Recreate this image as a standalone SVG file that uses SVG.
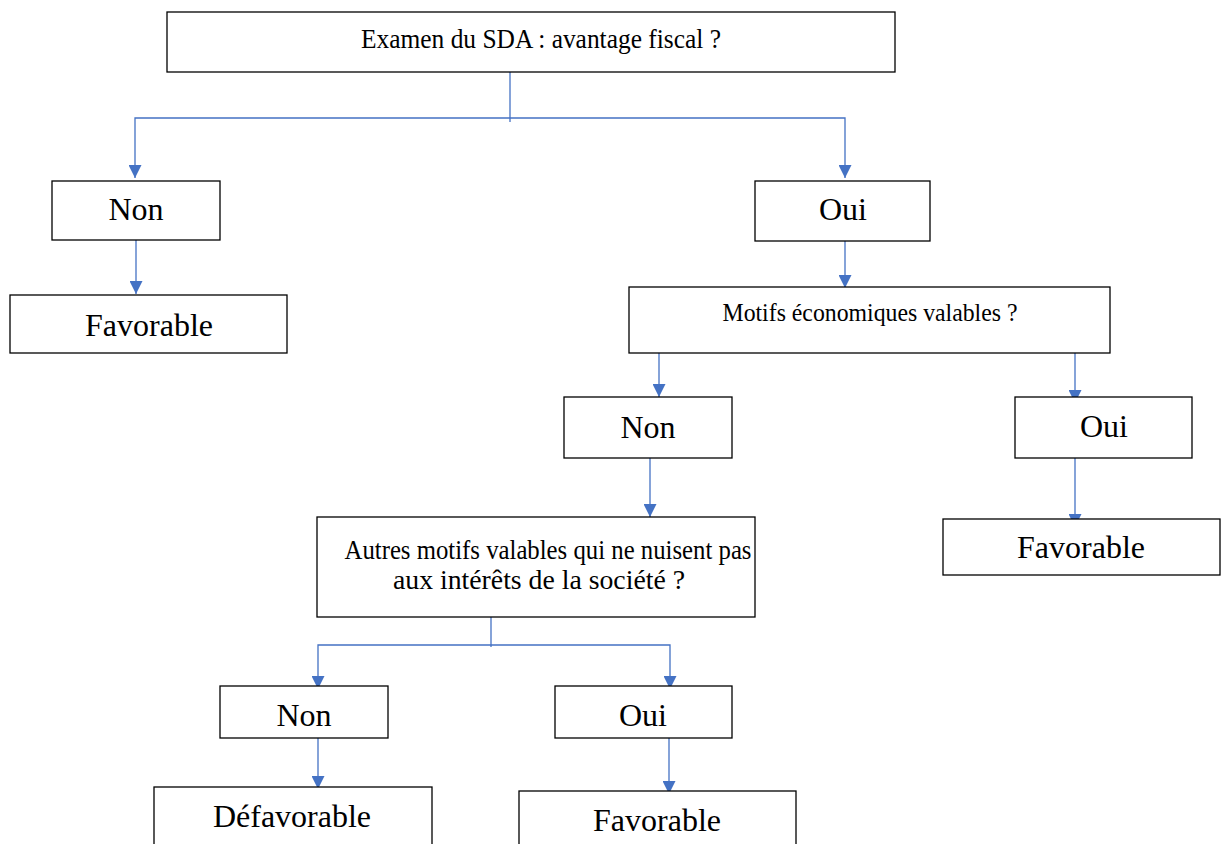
<svg xmlns="http://www.w3.org/2000/svg" width="1227" height="844" viewBox="0 0 1227 844">
<defs>
<marker id="arr" viewBox="0 0 10 10" refX="10" refY="5" markerWidth="16" markerHeight="13" markerUnits="userSpaceOnUse" orient="auto">
<path d="M0,0 L10,5 L0,10 z" fill="#4472C4"/>
</marker>
</defs>
<style>
.box{fill:#fff;stroke:#000;stroke-width:1.3}
.t{font-family:"Liberation Serif","Times New Roman",serif;fill:#000;text-anchor:middle}
.l{font-size:32px}
.c{fill:none;stroke:#4472C4;stroke-width:1.3}
.a{fill:none;stroke:#4472C4;stroke-width:1.3;marker-end:url(#arr)}
</style>
<rect width="1227" height="844" fill="#fff"/>
<g id="connectors">
<path class="c" d="M510,68 V122"/>
<path class="a" d="M510,118 H135 V178"/>
<path class="a" d="M510,118 H845 V178"/>
<path class="a" d="M136,240 V294"/>
<path class="a" d="M845,238 V288"/>
<path class="a" d="M659,350 V397"/>
<path class="a" d="M1075,353 V403"/>
<path class="a" d="M650,455 V517"/>
<path class="a" d="M1075,455 V527"/>
<path class="c" d="M491,614 V647"/>
<path class="a" d="M491,645 H318 V689"/>
<path class="a" d="M491,645 H670 V689"/>
<path class="a" d="M318,735 V789"/>
<path class="a" d="M669,735 V794"/>
</g>
<g id="n1"><rect class="box" x="167" y="12" width="728" height="60"/><text class="t" font-size="27" x="541" y="48" textLength="360" lengthAdjust="spacingAndGlyphs">Examen du SDA : avantage fiscal ?</text></g>
<g id="n2"><rect class="box" x="52" y="181" width="168" height="59"/><text class="t l" x="136" y="220">Non</text></g>
<g id="n3"><rect class="box" x="10" y="295" width="277" height="58"/><text class="t l" x="149" y="336">Favorable</text></g>
<g id="n4"><rect class="box" x="755" y="181" width="175" height="60"/><text class="t l" x="843" y="220">Oui</text></g>
<g id="n5"><rect class="box" x="629" y="287" width="481" height="66"/><text class="t" font-size="25" x="870" y="321" textLength="295" lengthAdjust="spacingAndGlyphs">Motifs économiques valables ?</text></g>
<g id="n6"><rect class="box" x="564" y="397" width="168" height="61"/><text class="t l" x="648" y="438">Non</text></g>
<g id="n7"><rect class="box" x="1015" y="397" width="177" height="61"/><text class="t l" x="1104" y="437">Oui</text></g>
<g id="n8"><rect class="box" x="317" y="517" width="438" height="100"/><text class="t" font-size="28" x="548" y="559" textLength="407" lengthAdjust="spacingAndGlyphs">Autres motifs valables qui ne nuisent pas</text><text class="t" font-size="28" x="539" y="589" textLength="292" lengthAdjust="spacingAndGlyphs">aux intérêts de la société ?</text></g>
<g id="n9"><rect class="box" x="943" y="519" width="277" height="56"/><text class="t l" x="1081" y="558">Favorable</text></g>
<g id="n10"><rect class="box" x="220" y="686" width="168" height="52"/><text class="t l" x="304" y="726">Non</text></g>
<g id="n11"><rect class="box" x="555" y="686" width="177" height="52"/><text class="t l" x="643" y="726">Oui</text></g>
<g id="n12"><rect class="box" x="154" y="787" width="278" height="70"/><text class="t l" x="292" y="827">Défavorable</text></g>
<g id="n13"><rect class="box" x="519" y="791" width="277" height="66"/><text class="t l" x="657" y="831">Favorable</text></g>
</svg>
